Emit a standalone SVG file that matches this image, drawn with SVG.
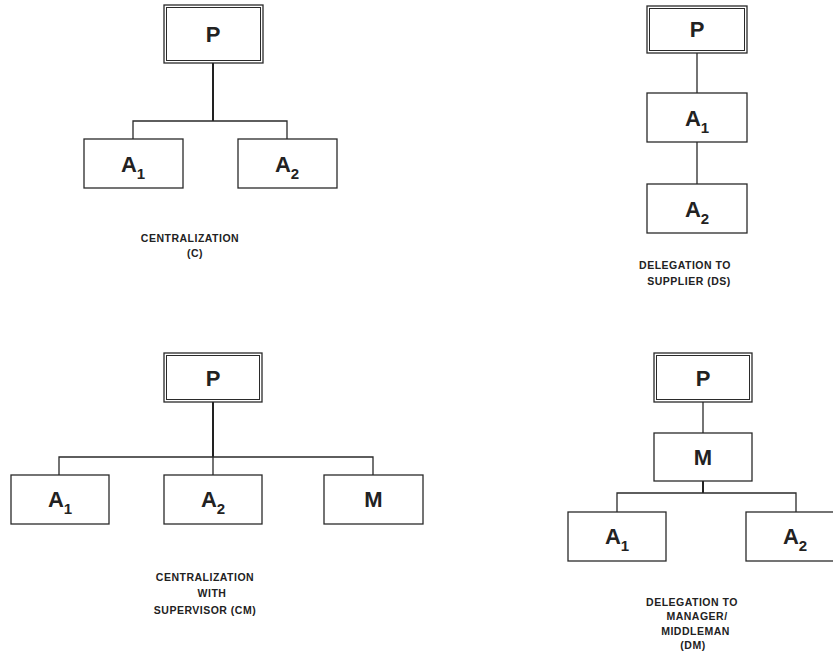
<svg xmlns="http://www.w3.org/2000/svg" width="833" height="658" viewBox="0 0 833 658">
<style>
.box{fill:#fff;stroke:#2a2a2a;stroke-width:1.3}
.inner{fill:none;stroke:#2a2a2a;stroke-width:1}
.n{font-family:"Liberation Sans",Arial,sans-serif;font-weight:bold;font-size:22px;fill:#222;text-anchor:middle}
.s{font-size:15px}
.lbl{font-family:"Liberation Sans",Arial,sans-serif;font-weight:bold;font-size:10.5px;letter-spacing:0.5px;fill:#222;text-anchor:middle}
.c{fill:none;stroke:#2a2a2a;stroke-width:1.3}
.ct{fill:none;stroke:#222;stroke-width:2}
</style>
<rect width="833" height="658" fill="#fff"/>
<g id="connectors">
<path class="ct" d="M213 63V121"/>
<path class="c" d="M133 139V121H287V139"/>
<path class="c" d="M697 53V93M697 142V184"/>
<path class="ct" d="M213 402V457"/>
<path class="c" d="M59 475V457H373V475M213 457V475"/>
<path class="c" d="M703 402V433"/>
<path class="ct" d="M703 481V493"/>
<path class="c" d="M617 512V493H796V512"/>
</g>
<g id="C-P"><rect class="box" x="164" y="5" width="99" height="58"/><rect class="inner" x="166.5" y="7.5" width="94" height="53"/><text class="n" x="213" y="42">P</text></g>
<g id="C-A1"><rect class="box" x="84" y="139" width="99" height="49"/><text class="n" x="133" y="172">A<tspan class="s" dy="7">1</tspan></text></g>
<g id="C-A2"><rect class="box" x="238" y="139" width="99" height="49"/><text class="n" x="287" y="172">A<tspan class="s" dy="7">2</tspan></text></g>
<g id="C-label"><text class="lbl" x="190" y="242">CENTRALIZATION</text><text class="lbl" x="195" y="257">(C)</text></g>

<g id="DS-P"><rect class="box" x="647" y="6" width="100" height="47"/><rect class="inner" x="649.5" y="8.5" width="95" height="42"/><text class="n" x="697" y="37">P</text></g>
<g id="DS-A1"><rect class="box" x="647" y="93" width="100" height="49"/><text class="n" x="697" y="126">A<tspan class="s" dy="7">1</tspan></text></g>
<g id="DS-A2"><rect class="box" x="647" y="184" width="100" height="49"/><text class="n" x="697" y="217">A<tspan class="s" dy="7">2</tspan></text></g>
<g id="DS-label"><text class="lbl" x="685" y="269">DELEGATION TO</text><text class="lbl" x="689" y="285">SUPPLIER (DS)</text></g>

<g id="CM-P"><rect class="box" x="164" y="353" width="98" height="49"/><rect class="inner" x="166.5" y="355.5" width="93" height="44"/><text class="n" x="213" y="386">P</text></g>
<g id="CM-A1"><rect class="box" x="11" y="475" width="98" height="49"/><text class="n" x="60" y="507">A<tspan class="s" dy="7">1</tspan></text></g>
<g id="CM-A2"><rect class="box" x="164" y="475" width="98" height="49"/><text class="n" x="213" y="507">A<tspan class="s" dy="7">2</tspan></text></g>
<g id="CM-M"><rect class="box" x="324" y="475" width="99" height="49"/><text class="n" x="373.5" y="507">M</text></g>
<g id="CM-label"><text class="lbl" x="205" y="581">CENTRALIZATION</text><text class="lbl" x="212" y="597">WITH</text><text class="lbl" x="205" y="614">SUPERVISOR (CM)</text></g>

<g id="DM-P"><rect class="box" x="654" y="353" width="98" height="49"/><rect class="inner" x="656.5" y="355.5" width="93" height="44"/><text class="n" x="703" y="386">P</text></g>
<g id="DM-M"><rect class="box" x="654" y="433" width="98" height="48"/><text class="n" x="703" y="465">M</text></g>
<g id="DM-A1"><rect class="box" x="568" y="512" width="98" height="49"/><text class="n" x="617" y="544">A<tspan class="s" dy="7">1</tspan></text></g>
<g id="DM-A2"><rect class="box" x="746" y="512" width="98" height="49"/><text class="n" x="795" y="544">A<tspan class="s" dy="7">2</tspan></text></g>
<g id="DM-label"><text class="lbl" x="692" y="606">DELEGATION TO</text><text class="lbl" x="697" y="620">MANAGER/</text><text class="lbl" x="695.5" y="635">MIDDLEMAN</text><text class="lbl" x="693" y="649">(DM)</text></g>
</svg>
